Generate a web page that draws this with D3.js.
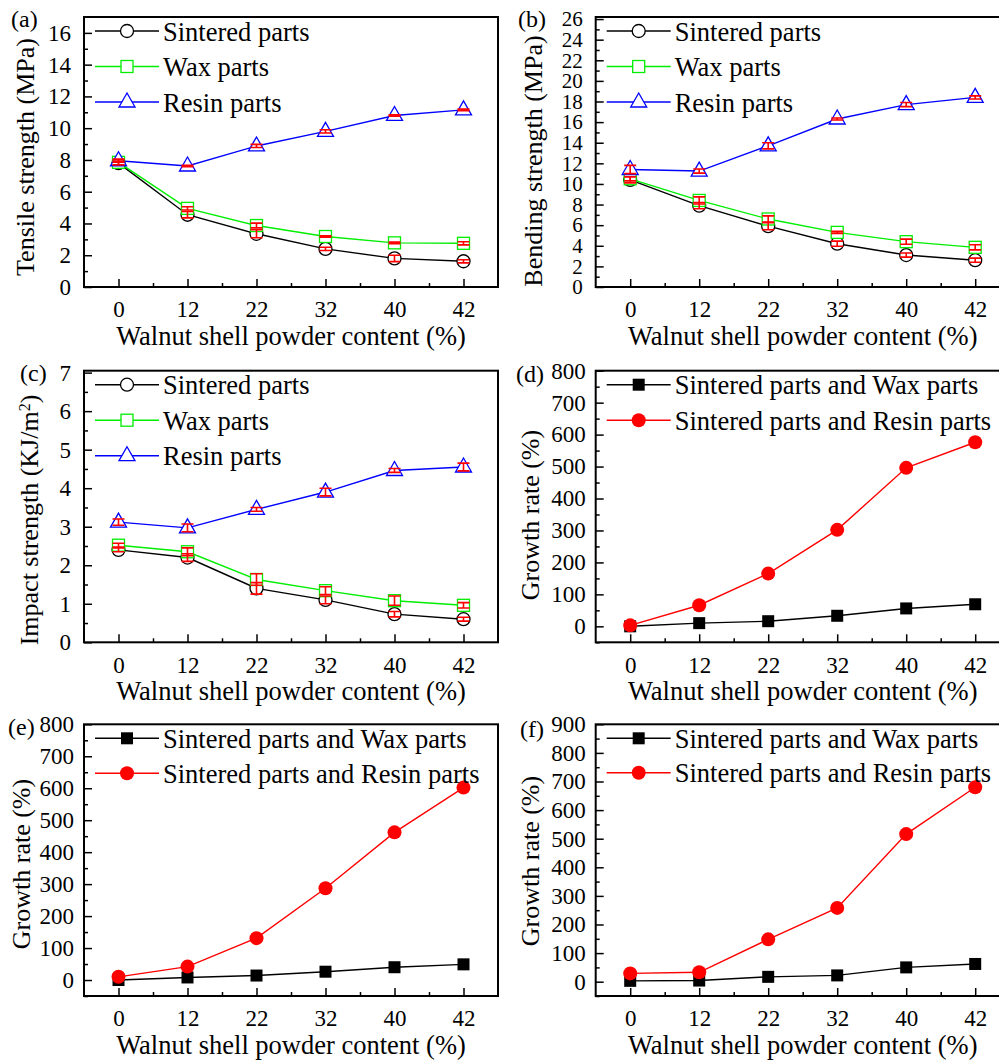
<!DOCTYPE html>
<html lang="en">
<head>
<meta charset="UTF-8">
<title>Walnut shell powder content</title>
<script src="https://cdn.jsdelivr.net/npm/d3@7"></script>
<style>
  body { margin: 0; background: #fff; }
  svg text { font-family: "Palatino Linotype", "Book Antiqua", Palatino, "Liberation Serif", serif; fill: #000; }
</style>
</head>
<body>
<script>
// categories (walnut shell powder content, %)
var cats = ["0", "12", "22", "32", "40", "42"];

// (a) tensile strength, MPa
var tensileSintered = [7.8, 4.55, 3.35, 2.4, 1.8, 1.62];
var tensileWax = [7.85, 4.95, 3.87, 3.18, 2.78, 2.75];
var tensileResin = [7.95, 7.62, 8.88, 9.8, 10.8, 11.15];
var tensileSinteredErr = [0.1, 0.2, 0.25, 0.1, 0.2, 0.1];
var tensileWaxErr = [0.15, 0.1, 0.15, 0.05, 0.05, 0.1];
var tensileResinErr = [0.1, 0.05, 0.1, 0.1, 0.05, 0.05];

// (b) bending strength, MPa
var bendSintered = [10.4, 7.9, 5.9, 4.2, 3.1, 2.6];
var bendWax = [10.5, 8.4, 6.6, 5.3, 4.4, 3.85];
var bendResin = [11.4, 11.25, 13.7, 16.3, 17.7, 18.4];
var bendSinteredErr = [0.3, 0.3, 0.35, 0.25, 0.2, 0.2];
var bendWaxErr = [0.2, 0.35, 0.3, 0.1, 0.25, 0.25];
var bendResinErr = [0.4, 0.2, 0.3, 0.1, 0.2, 0.15];

// (c) impact strength, KJ/m2
var impactSintered = [2.4, 2.2, 1.4, 1.1, 0.73, 0.6];
var impactWax = [2.52, 2.35, 1.63, 1.34, 1.08, 0.96];
var impactResin = [3.12, 2.97, 3.45, 3.9, 4.46, 4.55];
var impactSinteredErr = [0.05, 0.1, 0.15, 0.1, 0.07, 0.05];
var impactWaxErr = [0.05, 0.1, 0.15, 0.1, 0.12, 0.07];
var impactResinErr = [0.08, 0.1, 0.05, 0.1, 0.05, 0.1];

// (d)(e)(f) growth rate, %
var growthTensileWax = [0, 10, 16, 33, 56, 69];
var growthTensileResin = [3, 66, 165, 302, 496, 576];
var growthBendWax = [0, 8, 14, 26, 40, 49];
var growthBendResin = [10, 42, 131, 287, 462, 602];
var growthImpactWax = [3, 4, 17, 22, 50, 62];
var growthImpactResin = [29, 33, 148, 258, 516, 680];

var width = 999, height = 1061;
var svg = d3.select("body").append("svg")
    .attr("width", width)
    .attr("height", height);

var GREEN = "#00ee00", BLUE = "#0000ff", RED = "#ff0000";

function marker(g, type, x, y, color) {
    if (type == "circle") {
        g.append("circle").attr("cx", x).attr("cy", y).attr("r", 6.5)
            .attr("fill", "#fff").attr("stroke", color).attr("stroke-width", 1.3);
    } else if (type == "square") {
        g.append("rect").attr("x", x - 6).attr("y", y - 6).attr("width", 12).attr("height", 12)
            .attr("fill", "#fff").attr("stroke", color).attr("stroke-width", 1.3);
    } else if (type == "triangle") {
        g.append("path").attr("d", "M" + x + "," + (y - 9) + "L" + (x + 8) + "," + (y + 5) + "L" + (x - 8) + "," + (y + 5) + "Z")
            .attr("fill", "#fff").attr("stroke", color).attr("stroke-width", 1.3);
    } else if (type == "fsquare") {
        g.append("rect").attr("x", x - 6).attr("y", y - 6).attr("width", 12).attr("height", 12)
            .attr("fill", color);
    } else if (type == "fcircle") {
        g.append("circle").attr("cx", x).attr("cy", y).attr("r", 7).attr("fill", color);
    }
}

function panel(cfg) {
    var g = svg.append("g");
    var x = d3.scaleLinear().domain([-0.5, 5.5]).range([cfg.left, cfg.right]);
    var y = d3.scaleLinear().domain(cfg.yDomain).range([cfg.bottom, cfg.top]);

    // y axis (ticks inward)
    g.append("g").attr("transform", "translate(" + cfg.left + ",0)")
        .call(d3.axisLeft(y).tickValues(cfg.yTicks).tickSize(-8).tickPadding(cfg.labelGap).tickFormat(d3.format("d")))
        .call(function (a) {
            a.select(".domain").remove();
            a.selectAll("line").attr("stroke-width", 1.5);
            a.selectAll("text").style("font-size", cfg.tickFont || "23px");
        });
    g.append("g").attr("transform", "translate(" + cfg.left + ",0)")
        .call(d3.axisLeft(y).tickValues(cfg.yMinor).tickSize(-4).tickFormat(""))
        .call(function (a) { a.select(".domain").remove(); a.selectAll("line").attr("stroke-width", 1.5); });

    // x axis
    g.append("g").attr("transform", "translate(0," + cfg.bottom + ")")
        .call(d3.axisBottom(x).tickValues(d3.range(6)).tickSize(-8).tickPadding(14)
            .tickFormat(function (d) { return cats[d]; }))
        .call(function (a) {
            a.select(".domain").remove();
            a.selectAll("line").attr("stroke-width", 1.5);
            a.selectAll("text").style("font-size", "23px");
        });
    g.append("g").attr("transform", "translate(0," + cfg.bottom + ")")
        .call(d3.axisBottom(x).tickValues([0.5, 1.5, 2.5, 3.5, 4.5]).tickSize(-4).tickFormat(""))
        .call(function (a) { a.select(".domain").remove(); a.selectAll("line").attr("stroke-width", 1.5); });

    // frame
    g.append("rect").attr("x", cfg.left).attr("y", cfg.top)
        .attr("width", cfg.right - cfg.left).attr("height", cfg.bottom - cfg.top)
        .attr("fill", "none").attr("stroke", "#000").attr("stroke-width", 2);

    // lines
    var line = d3.line().x(function (d, i) { return x(i); }).y(function (d) { return y(d); });
    cfg.series.forEach(function (s) {
        g.append("path").datum(s.values).attr("d", line)
            .attr("fill", "none").attr("stroke", s.color).attr("stroke-width", 1.4);
    });
    cfg.series.forEach(function (s) {
        s.values.forEach(function (v, i) { marker(g, s.marker, x(i), y(v), s.color); });
    });
    // error bars
    cfg.series.forEach(function (s) {
        if (!s.err) return;
        s.values.forEach(function (v, i) {
            var cx = x(i), y1 = y(v - s.err[i]), y2 = y(v + s.err[i]);
            g.append("path")
                .attr("d", "M" + cx + "," + y1 + "V" + y2 + "M" + (cx - 6) + "," + y1 + "H" + (cx + 6) + "M" + (cx - 6) + "," + y2 + "H" + (cx + 6))
                .attr("fill", "none").attr("stroke", RED).attr("stroke-width", 1.6);
        });
    });

    // legend
    cfg.series.forEach(function (s, i) {
        var ly = cfg.top + 14 + i * cfg.legendStep;
        g.append("line").attr("x1", cfg.left + 11).attr("x2", cfg.left + 75)
            .attr("y1", ly).attr("y2", ly).attr("stroke", s.color).attr("stroke-width", 1.4);
        marker(g, s.marker, cfg.left + 43, ly, s.color);
        g.append("text").attr("x", cfg.left + 79).attr("y", ly).attr("dy", "0.36em")
            .style("font-size", "26.5px").text(s.name);
    });

    // axis titles
    g.append("text").attr("x", (cfg.left + cfg.left + 414) / 2).attr("y", cfg.bottom + 58)
        .attr("text-anchor", "middle").style("font-size", "26.5px")
        .text("Walnut shell powder content (%)");
    var yt = g.append("text")
        .attr("transform", "translate(" + cfg.titleX + "," + cfg.titleY + ") rotate(-90)")
        .attr("text-anchor", "middle").attr("dy", "0.36em").style("font-size", "26px");
    yt.append("tspan").text(cfg.yTitle);
    if (cfg.yTitleSup) {
        yt.append("tspan").attr("baseline-shift", "super").style("font-size", "16px").text(cfg.yTitleSup);
        yt.append("tspan").text(cfg.yTitleEnd);
    }

    // panel letter
    g.append("text").attr("x", cfg.labelX).attr("y", cfg.labelY)
        .style("font-size", "24px").text(cfg.label);
}

var L1 = 84, R1 = 498, L2 = 595.7, R2 = 1009.7;

panel({
    left: L1, right: R1, top: 17, bottom: 287,
    yDomain: [0, 17], yTicks: d3.range(0, 17, 2), yMinor: d3.range(1, 17, 2), labelGap: 13,
    yTitle: "Tensile strength (MPa)", titleX: 25, titleY: 157,
    label: "(a)", labelX: 11, labelY: 27, legendStep: 35.5,
    series: [
        { name: "Sintered parts", values: tensileSintered, err: tensileSinteredErr, color: "#000", marker: "circle" },
        { name: "Wax parts", values: tensileWax, err: tensileWaxErr, color: GREEN, marker: "square" },
        { name: "Resin parts", values: tensileResin, err: tensileResinErr, color: BLUE, marker: "triangle" }
    ]
});

panel({
    left: L2, right: R2, top: 17, bottom: 287,
    yDomain: [0, 26.2], yTicks: d3.range(0, 27, 2), yMinor: d3.range(1, 26, 2), labelGap: 13,
    tickFont: "21px",
    yTitle: "Bending strength (MPa)", titleX: 533, titleY: 161,
    label: "(b)", labelX: 518, labelY: 27, legendStep: 35.5,
    series: [
        { name: "Sintered parts", values: bendSintered, err: bendSinteredErr, color: "#000", marker: "circle" },
        { name: "Wax parts", values: bendWax, err: bendWaxErr, color: GREEN, marker: "square" },
        { name: "Resin parts", values: bendResin, err: bendResinErr, color: BLUE, marker: "triangle" }
    ]
});

panel({
    left: L1, right: R1, top: 370.7, bottom: 642.3,
    yDomain: [0, 7.05], yTicks: d3.range(0, 8, 1), yMinor: d3.range(0.5, 7, 1), labelGap: 13,
    yTitle: "Impact strength (KJ/m", yTitleSup: "2", yTitleEnd: ")", titleX: 29, titleY: 520,
    label: "(c)", labelX: 20, labelY: 381, legendStep: 35.5,
    series: [
        { name: "Sintered parts", values: impactSintered, err: impactSinteredErr, color: "#000", marker: "circle" },
        { name: "Wax parts", values: impactWax, err: impactWaxErr, color: GREEN, marker: "square" },
        { name: "Resin parts", values: impactResin, err: impactResinErr, color: BLUE, marker: "triangle" }
    ]
});

panel({
    left: L2, right: R2, top: 370.7, bottom: 642.3,
    yDomain: [-50, 800], yTicks: d3.range(0, 801, 100), yMinor: d3.range(-50, 800, 100), labelGap: 10,
    yTitle: "Growth rate (%)", titleX: 530, titleY: 515,
    label: "(d)", labelX: 516, labelY: 382, legendStep: 35.5,
    series: [
        { name: "Sintered parts and Wax parts", values: growthTensileWax, color: "#000", marker: "fsquare" },
        { name: "Sintered parts and Resin parts", values: growthTensileResin, color: RED, marker: "fcircle" }
    ]
});

panel({
    left: L1, right: R1, top: 724.3, bottom: 996,
    yDomain: [-50, 800], yTicks: d3.range(0, 801, 100), yMinor: d3.range(-50, 800, 100), labelGap: 10,
    yTitle: "Growth rate (%)", titleX: 21, titleY: 864,
    label: "(e)", labelX: 8, labelY: 735, legendStep: 35,
    series: [
        { name: "Sintered parts and Wax parts", values: growthBendWax, color: "#000", marker: "fsquare" },
        { name: "Sintered parts and Resin parts", values: growthBendResin, color: RED, marker: "fcircle" }
    ]
});

panel({
    left: L2, right: R2, top: 724.3, bottom: 996,
    yDomain: [-50, 900], yTicks: d3.range(0, 901, 100), yMinor: d3.range(-50, 900, 100), labelGap: 10,
    yTitle: "Growth rate (%)", titleX: 530, titleY: 861,
    label: "(f)", labelX: 520, labelY: 737, legendStep: 34.5,
    series: [
        { name: "Sintered parts and Wax parts", values: growthImpactWax, color: "#000", marker: "fsquare" },
        { name: "Sintered parts and Resin parts", values: growthImpactResin, color: RED, marker: "fcircle" }
    ]
});
</script>
</body>
</html>
